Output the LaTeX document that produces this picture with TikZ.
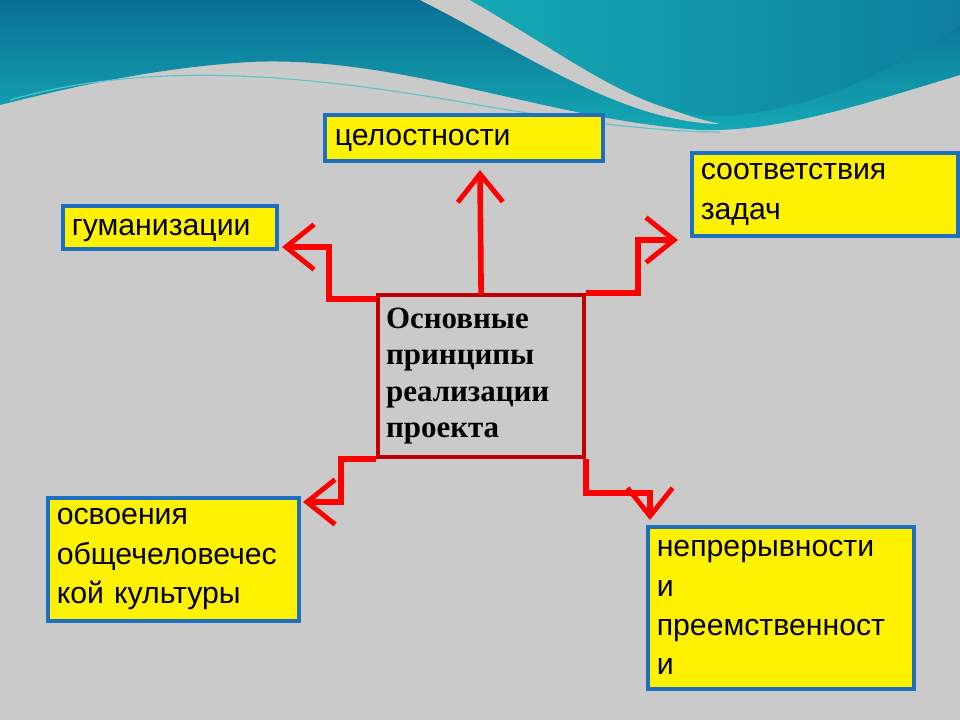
\documentclass[tikz,border=0pt]{standalone}
\usepackage{fontspec}
\setmainfont{Liberation Sans}
\newfontfamily\serifbold{Liberation Serif}
\usetikzlibrary{arrows.meta}
\definecolor{seaA}{HTML}{0B6E94}
\definecolor{seaB}{HTML}{14A9B4}
\definecolor{hatch}{HTML}{CACACA}
\definecolor{boxline}{HTML}{1F6FC0}
\definecolor{darkred}{HTML}{C00000}
\tikzset{my_box/.style={draw=boxline, line width=2.5pt, fill=yellow, inner xsep=4pt, inner ysep=0pt,
    align=left, font=\fontsize{21.5}{28}\selectfont, anchor=north west}}
\tikzset{my_arrow/.style={draw=red, line width=4pt, -{Straight Barb[length=20pt,width=32pt,line width=3.5pt]}}}
\begin{document}
\begin{tikzpicture}[x=0.025cm, y=-0.025cm]
    \useasboundingbox (0,0) rectangle (960,720);
    \fill[hatch] (0,0) rectangle (960,720);
    % waves at the top
    \shade[top color=seaA, bottom color=seaB] (0,0) -- (960,0) -- (960,75) .. controls (860,105) and (780,132) .. (700,130)
        .. controls (550,120) and (400,55) .. (250,62) .. controls (150,68) and (60,90) .. (0,105) -- cycle;
    \fill[hatch] (420,0) .. controls (520,50) and (620,122) .. (720,124) .. controls (630,105) and (540,40) .. (470,0) -- cycle;
    \shade[left color=seaB, right color=seaA!70!seaB] (470,0) .. controls (560,50) and (640,118) .. (720,116)
        .. controls (820,112) and (910,60) .. (960,25) -- (960,0) -- cycle;
    \draw[seaB!70, line width=0.8pt] (10,100) .. controls (150,60) and (300,75) .. (450,100) .. controls (550,118) and (650,132) .. (720,132);
    % boxes
    \node[my_box, minimum width=278*0.025cm, minimum height=46*0.025cm, text width=258*0.025cm] (whole) at (323,113) {\strut целостности};
    \node[my_box, minimum width=214*0.025cm, minimum height=43*0.025cm, text width=196*0.025cm] (human) at (61,204) {\strut гуманизации};
    \node[my_box, minimum width=266*0.025cm, minimum height=83*0.025cm, text width=248*0.025cm] (tasks) at (690,151) {соответствия\\задач};
    \node[my_box, minimum width=251*0.025cm, minimum height=123*0.025cm, text width=233*0.025cm] (culture) at (46,496) {освоения\\общечеловечес\\кой культуры};
    \node[my_box, minimum width=266*0.025cm, minimum height=162*0.025cm, text width=248*0.025cm] (contin) at (646,525) {непрерывности\\и\\преемственност\\и};
    \node[draw=darkred, line width=3pt, minimum width=206*0.025cm, minimum height=162*0.025cm,
        anchor=north west, align=left, text width=190*0.025cm, inner xsep=3pt,
        font=\serifbold\bfseries\fontsize{22}{26}\selectfont] (main) at (376,293)
        {Основные\\принципы\\реализации\\проекта};
    \coordinate (t1) at (480,170);
    \coordinate (t2) at (282,247);
    \coordinate (t3) at (678,240);
    \coordinate (t4) at (303,502);
    \coordinate (t5) at (650,520);
    \draw[my_arrow] (main.north) -- (t1);
    \draw[my_arrow] (main.north west) ++(0,6) -- ++(-47,0) |- (t2);
    \draw[my_arrow] (main.north east) -- ++(52,0) |- (t3);
    \draw[my_arrow] (main.south west) -- ++(-35,0) |- (t4);
    \draw[my_arrow] (main.south east) -- ++(0,34) -| (t5);
\end{tikzpicture}
\end{document}
